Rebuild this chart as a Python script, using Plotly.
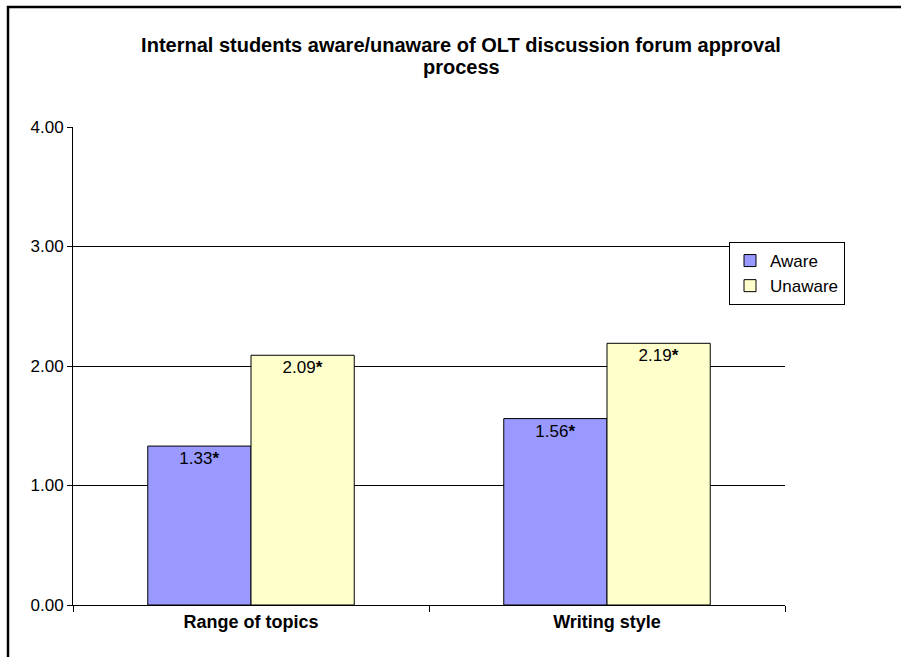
import plotly.graph_objects as go

categories = ["Range of topics", "Writing style"]
aware = [1.33, 1.56]
unaware = [2.09, 2.19]
aware_labels = ["1.33<b>*</b>", "1.56<b>*</b>"]
unaware_labels = ["2.09<b>*</b>", "2.19<b>*</b>"]
y_ticks = [0, 1, 2, 3, 4]
title_lines = ["Internal students aware/unaware of OLT discussion forum approval", "process"]

W, H = 901, 657
L, R, T, B = 73, 116, 127, 52
pw, ph = W - L - R, H - T - B
FONT = "Liberation Sans, Arial"

def px_x(x):
    return (x - L) / pw

def px_y(y):
    return (H - B - y) / ph

fig = go.Figure()
fig.add_trace(go.Bar(
    x=categories, y=aware, name="Aware", text=aware_labels,
    marker=dict(color="#9999FF", line=dict(color="black", width=1)),
    textposition="inside", insidetextanchor="end", textangle=0,
    textfont=dict(family=FONT, size=17, color="black"),
))
fig.add_trace(go.Bar(
    x=categories, y=unaware, name="Unaware", text=unaware_labels,
    marker=dict(color="#FFFFCC", line=dict(color="black", width=1)),
    textposition="inside", insidetextanchor="end", textangle=0,
    textfont=dict(family=FONT, size=17, color="black"),
))

fig.update_layout(
    width=W, height=H,
    margin=dict(l=L, r=R, t=T, b=B),
    paper_bgcolor="white", plot_bgcolor="white",
    barmode="group", bargap=0.42, bargroupgap=0,
    font=dict(family=FONT, size=17, color="black"),
    title=dict(
        text="<b>" + title_lines[0] + "</b>",
        x=px_x(461), xref="paper", xanchor="center",
        y=1 - 45 / H, yref="container", yanchor="middle",
        font=dict(family=FONT, size=20, color="black"),
    ),
    legend=dict(
        x=px_x(729), y=px_y(242), xanchor="left", yanchor="top",
        bgcolor="white", bordercolor="black", borderwidth=1,
        font=dict(family=FONT, size=17, color="black"),
        traceorder="normal", tracegroupgap=0,
    ),
    showlegend=True,
)

fig.add_annotation(
    text="<b>" + title_lines[1] + "</b>", xref="paper", yref="paper",
    x=px_x(461), y=px_y(67), xanchor="center", yanchor="middle",
    showarrow=False, font=dict(family=FONT, size=20, color="black"),
)

fig.update_yaxes(
    range=[0, 4], tickvals=y_ticks, tickformat=".2f",
    showgrid=True, gridcolor="black", gridwidth=1,
    showline=True, linecolor="black", linewidth=1,
    ticks="outside", ticklen=5, tickcolor="black",
    zeroline=False, fixedrange=True,
    tickfont=dict(size=17),
)
fig.update_xaxes(
    showline=True, linecolor="black", linewidth=1,
    ticks="outside", ticklen=6, tickcolor="black", tickson="boundaries",
    showgrid=False, fixedrange=True,
    tickfont=dict(size=18),
    ticktext=["<b>Range of topics</b>", "<b>Writing style</b>"],
    tickvals=categories,
)

# outer chart border (extends past the window on right and bottom)
fig.add_shape(type="rect", xref="paper", yref="paper",
              x0=px_x(8), x1=px_x(960), y0=px_y(720), y1=px_y(7),
              line=dict(color="black", width=2.5), fillcolor="rgba(0,0,0,0)",
              layer="above")

fig.write_html("out.html", config={"displayModeBar": False},
               post_script="document.body.style.margin='0';document.body.style.overflow='hidden';")
